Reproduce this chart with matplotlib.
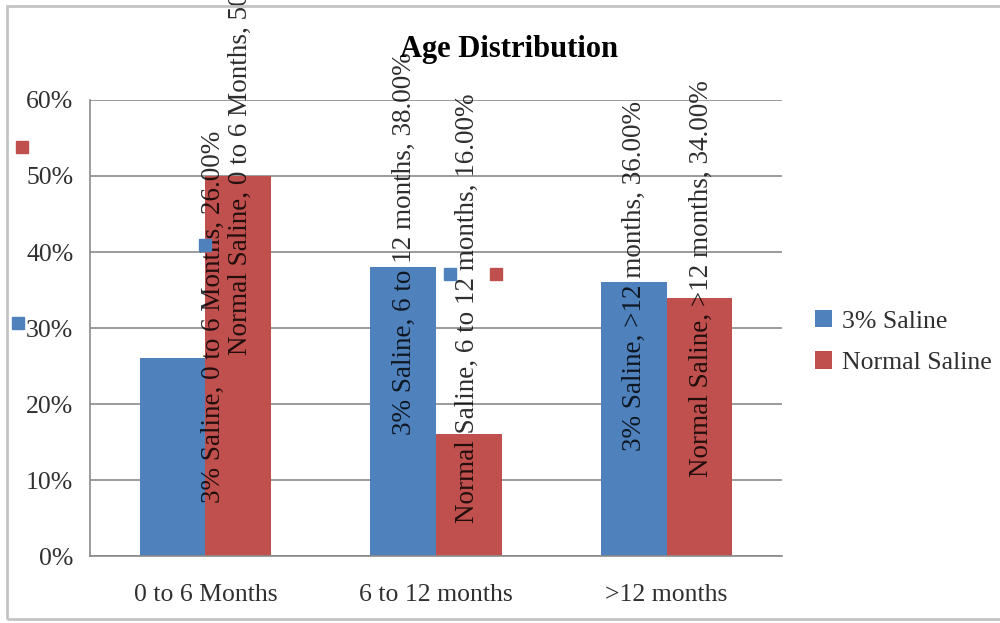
import numpy as np
import matplotlib
matplotlib.use("Agg")
import matplotlib.pyplot as plt
from matplotlib.patches import Rectangle
from matplotlib.ticker import FuncFormatter

plt.rcParams["font.family"] = ["Liberation Serif", "DejaVu Serif"]

# ---- data -------------------------------------------------------------
categories = ["0 to 6 Months", "6 to 12 months", ">12 months"]
series_names = ["3% Saline", "Normal Saline"]
saline_3 = [26.0, 38.0, 36.0]        # percent
normal_saline = [50.0, 16.0, 34.0]   # percent
y_ticks = [0, 10, 20, 30, 40, 50, 60]

# ---- layout of the rotated data labels (label start, horizontal shift) ----
label_base = [[7.0, 15.9, 13.8], [26.4, 4.3, 10.4]]
label_shift = [[0.175, 0.003, 0.0], [0.008, -0.004, 0.007]]

# small legend-key squares that travel with the data labels (data coords)
key_squares = [
    (0, 0.498, 40.9),
    (0, 1.561, 37.1),
    (1, 1.760, 37.1),
    (1, -0.293, 53.8),
    (0, -0.312, 30.6),
]

colors = ["#4F81BD", "#C0504D"]
grid_col = "#8a8a8a"
text_col = "#303030"

fig = plt.figure(figsize=(10, 6.23), dpi=100)
ax = fig.add_axes([0.09, 0.1075, 0.692, 0.732])

# outer chart frame
fig.patches.append(Rectangle((0.007, 0.0065), 1.1, 0.984, transform=fig.transFigure,
                             fill=False, edgecolor="#c4c4c4", linewidth=2.0, zorder=0))

x = np.arange(len(categories)) + 0.5
w = 0.284
values = [saline_3, normal_saline]
offsets = [-w / 2, w / 2]

for s, (vals, off) in enumerate(zip(values, offsets)):
    ax.bar(x + off, vals, w, color=colors[s], label=series_names[s], zorder=2)

for s, (vals, off) in enumerate(zip(values, offsets)):
    for i, v in enumerate(vals):
        txt = f"{series_names[s]}, {categories[i]}, {v:.2f}%"
        ax.text(x[i] + off + label_shift[s][i], label_base[s][i], txt,
                rotation=90, ha="center", va="bottom", fontsize=19.5,
                color="black", alpha=0.82, zorder=4, clip_on=False)

for s, kx, ky in key_squares:
    ax.plot([kx], [ky], marker="s", markersize=8.5, color=colors[s],
            linestyle="none", zorder=5, clip_on=False)

ax.set_xlim(0, 3)
ax.set_ylim(0, 60)
ax.set_yticks(y_ticks)
ax.yaxis.set_major_formatter(FuncFormatter(lambda v, p: f"{v:.0f}%"))
ax.set_xticks(x)
ax.set_xticklabels(categories)
ax.tick_params(axis="y", length=0, pad=12, labelsize=18.5, labelcolor=text_col)
ax.tick_params(axis="x", length=0, pad=20, labelsize=18.5, labelcolor=text_col)

ax.grid(axis="y", color=grid_col, linewidth=1.2, zorder=0)
ax.set_axisbelow(True)
for side in ["top", "right"]:
    ax.spines[side].set_visible(False)
for side in ["left", "bottom"]:
    ax.spines[side].set_color(grid_col)
    ax.spines[side].set_linewidth(1.2)

fig.text(0.509, 1 - 57 / 623, "Age Distribution", ha="center", va="baseline",
         fontsize=22, fontweight="bold", color="black")

ax.legend(loc="center left", bbox_to_anchor=(0.815, 0.451), bbox_transform=fig.transFigure,
          frameon=False, fontsize=18.5, handlelength=0.66, handleheight=0.66,
          handletextpad=0.39, labelspacing=0.72, borderpad=0, borderaxespad=0,
          labelcolor=text_col)

fig.savefig("out.png", dpi=100)
